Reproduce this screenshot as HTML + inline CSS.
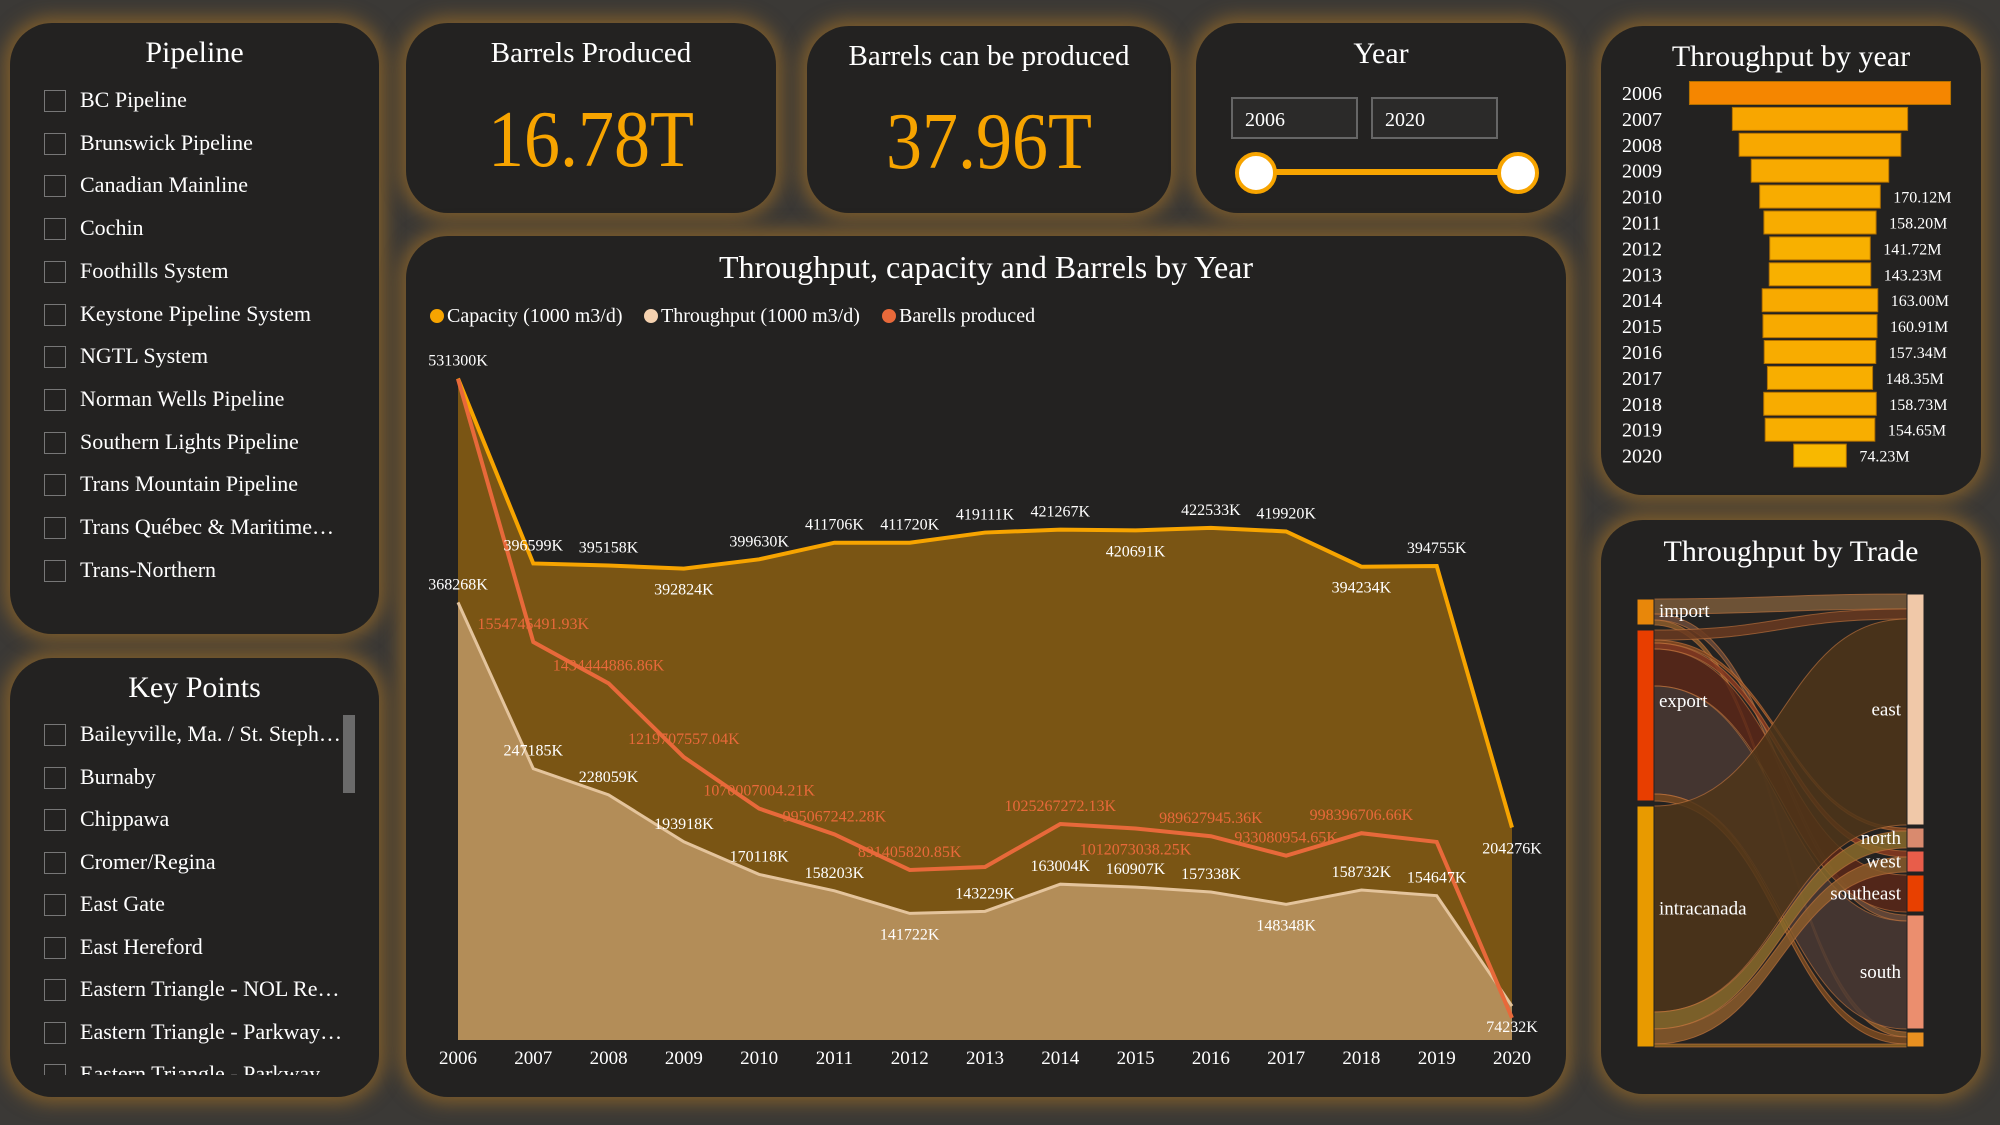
<!DOCTYPE html>
<html><head><meta charset="utf-8">
<style>
html,body{margin:0;padding:0;}
body{width:2000px;height:1125px;background:#3b3936;position:relative;overflow:hidden;font-family:"Liberation Serif",serif;color:#fff;}
.panel{position:absolute;background:#232221;border-radius:42px;box-shadow:0 0 18px 6px rgba(150,105,40,0.75);}
.ptitle{position:absolute;left:0;right:0;text-align:center;font-size:30px;}
.item{position:absolute;left:34px;font-size:22px;white-space:nowrap;}
.cb{position:absolute;left:0;top:-11px;width:20px;height:20px;border:1.5px solid #777;}
.lbl{position:absolute;left:36px;top:-14px;}
.kpi{position:absolute;left:0;right:0;text-align:center;color:#f7a400;font-size:80px;transform:scaleX(0.9);}
.inp{position:absolute;width:127px;height:42px;border:2px solid #666;background:#2b2a29;font-size:20px;line-height:42px;box-sizing:border-box;padding-left:12px;}
svg{position:absolute;left:0;top:0;}
</style></head>
<body>
<div class="panel" style="left:10px;top:23px;width:369px;height:611px;">
  <div class="ptitle" style="top:13px;">Pipeline</div>
  <div id="pipeList"></div>
</div>
<div class="panel" style="left:10px;top:658px;width:369px;height:439px;overflow:hidden;">
  <div class="ptitle" style="top:13px;">Key Points</div>
  <div id="kpList" style="position:absolute;left:0;top:0;width:369px;height:417px;overflow:hidden;"></div>
  <div style="position:absolute;left:333px;top:57px;width:12px;height:78px;background:#6a6a6a;"></div>
</div>
<div class="panel" style="left:406px;top:23px;width:370px;height:190px;">
  <div class="ptitle" style="top:14px;font-size:29px;">Barrels Produced</div>
  <div class="kpi" style="top:72px;">16.78T</div>
</div>
<div class="panel" style="left:807px;top:26px;width:364px;height:187px;">
  <div class="ptitle" style="top:14px;font-size:29px;">Barrels can be produced</div>
  <div class="kpi" style="top:71px;">37.96T</div>
</div>
<div class="panel" style="left:1196px;top:23px;width:370px;height:190px;">
  <div class="ptitle" style="top:14px;">Year</div>
  <div class="inp" style="left:35px;top:74px;">2006</div>
  <div class="inp" style="left:175px;top:74px;">2020</div>
  <div style="position:absolute;left:59px;top:146px;width:262px;height:6px;background:#f7a400;"></div>
  <div style="position:absolute;left:39px;top:129px;width:34px;height:34px;border-radius:50%;background:#fff;border:4px solid #f7a400;"></div>
  <div style="position:absolute;left:301px;top:129px;width:34px;height:34px;border-radius:50%;background:#fff;border:4px solid #f7a400;"></div>
</div>
<div class="panel" style="left:406px;top:236px;width:1160px;height:861px;"></div>
<div class="panel" style="left:1601px;top:26px;width:380px;height:469px;">
  <div class="ptitle" style="top:14px;">Throughput by year</div>
</div>
<div class="panel" style="left:1601px;top:520px;width:380px;height:574px;">
  <div class="ptitle" style="top:15px;">Throughput by Trade</div>
</div>
<svg id="main" width="2000" height="1125"></svg>
<script>
const pipelines=["BC Pipeline","Brunswick Pipeline","Canadian Mainline","Cochin","Foothills System","Keystone Pipeline System","NGTL System","Norman Wells Pipeline","Southern Lights Pipeline","Trans Mountain Pipeline","Trans Québec & Maritime…","Trans-Northern"];
const keyPoints=["Baileyville, Ma. / St. Steph…","Burnaby","Chippawa","Cromer/Regina","East Gate","East Hereford","Eastern Triangle - NOL Re…","Eastern Triangle - Parkway…","Eastern Triangle - Parkway…"];
function fillList(id,arr,top0,pitch){
  const c=document.getElementById(id);
  arr.forEach((t,i)=>{
    const d=document.createElement('div');d.className='item';d.style.top=(top0+i*pitch)+'px';
    
    
    d.innerHTML='<div class="cb"></div><div class="lbl">'+t+'</div>';
    c.appendChild(d);
  });
}
fillList('pipeList',pipelines,78,42.7);
fillList('kpList',keyPoints,77,42.5);

const years=[2006,2007,2008,2009,2010,2011,2012,2013,2014,2015,2016,2017,2018,2019,2020];
const capacity=[531300,396599,395158,392824,399630,411706,411720,419111,421267,420691,422533,419920,394234,394755,204276];
const throughput=[368268,247185,228059,193918,170118,158203,141722,143229,163004,160907,157338,148348,158732,154647,74232];
const barrels=[2320,1554.75,1434.44,1219.71,1070.01,995.07,891.41,900,1025.27,1012.07,989.63,933.08,998.40,973,461];
const barrelLabels=["","1554745491.93K","1434444886.86K","1219707557.04K","1070007004.21K","995067242.28K","891405820.85K","","1025267272.13K","1012073038.25K","989627945.36K","933080954.65K","998396706.66K","",""];
const capPos=["a","a","a","b","a","a","a","a","a","b","a","a","b","a","b"];
const thrPos=["a","a","a","a","a","a","b","a","a","a","a","b","a","a","b"];
const barPos=["a","a","a","a","a","a","a","a","a","b","a","a","a","a","a"];

const NS='http://www.w3.org/2000/svg';
const svg=document.getElementById('main');
function el(tag,attrs,parent){const e=document.createElementNS(NS,tag);for(const k in attrs)e.setAttribute(k,attrs[k]);(parent||svg).appendChild(e);return e;}
const X0=458,X1=1512,BASE=1040;
const xs=i=>X0+i*(X1-X0)/(years.length-1);
const yv=v=>1108-v*0.001373;
const yb=v=>642+(1554.75-v)*0.3437;

let t=el('text',{x:986,y:278,'text-anchor':'middle','font-size':32,fill:'#fff'});t.textContent='Throughput, capacity and Barrels by Year';


const leg=[["Capacity (1000 m3/d)","#f7a400",437],["Throughput (1000 m3/d)","#f5d2b0",651],["Barells produced","#e8693a",889]];
leg.forEach(l=>{
  const g=el('g',{});
  
  
  el('circle',{cx:l[2],cy:316,r:7,fill:l[1]},g);
  const tx=el('text',{x:l[2]+10,y:322,'font-size':20,fill:'#fff'},g);tx.textContent=l[0];
});
function areaPath(vals,fy){let d='M'+xs(0)+','+BASE;vals.forEach((v,i)=>d+=' L'+xs(i)+','+fy(v));return d+' L'+xs(vals.length-1)+','+BASE+' Z';}
function linePath(vals,fy){return vals.map((v,i)=>(i?'L':'M')+xs(i)+','+fy(v)).join(' ');}
let a=el('path',{d:areaPath(capacity,yv),fill:'#7a5514'});


a=el('path',{d:areaPath(throughput,yv),fill:'#b38d58'});


a=el('path',{d:linePath(throughput,yv),fill:'none',stroke:'#e4c49c','stroke-width':3});


a=el('path',{d:linePath(capacity,yv),fill:'none',stroke:'#f7a400','stroke-width':4});


a=el('path',{d:linePath(barrels,yb),fill:'none',stroke:'#e8693a','stroke-width':4});


function dataLabels(vals,fy,texts,pos,color,name){
  vals.forEach((v,i)=>{
    if(!texts[i])return;
    const y=fy(v)+(pos[i]==='a'?-13:26);
    const tx=el('text',{x:xs(i),y:y,'text-anchor':'middle','font-size':16,fill:color});
    
    
    tx.textContent=texts[i];
  });
}
dataLabels(capacity,yv,capacity.map(v=>v+'K'),capPos,'#fff','capacity-label');
dataLabels(throughput,yv,throughput.map(v=>v+'K'),thrPos,'#fff','throughput-label');
dataLabels(barrels,yb,barrelLabels,barPos,'#e8693a','barrels-label');
years.forEach((y,i)=>{
  const tx=el('text',{x:xs(i),y:1064,'text-anchor':'middle','font-size':19,fill:'#fff'});
  
  
  tx.textContent=y;
});

const fyLabels=["","","","","170.12M","158.20M","141.72M","143.23M","163.00M","160.91M","157.34M","148.35M","158.73M","154.65M","74.23M"];
const fColors=["#f58600","#f8a600","#f8a800","#f8aa00","#f8ac00","#f8ac00","#f8b000","#f8b000","#f8aa00","#f8aa00","#f8ac00","#f8ae00","#f8ac00","#f8ae00","#f8b800"];
const FC=1820,FW=0.000709;
years.forEach((y,i)=>{
  const cy=93+i*25.9, w=throughput[i]*FW;
  const tx=el('text',{x:1622,y:cy+7,'font-size':20,fill:'#fff'});
  
  
  tx.textContent=y;
  const r=el('rect',{x:FC-w/2,y:cy-11.5,width:w,height:23,fill:fColors[i],stroke:'#b27000','stroke-width':1});
  
  
  if(fyLabels[i]){
    const v=el('text',{x:FC+w/2+13,y:cy+6,'font-size':16,fill:'#fff'});
    
    
    v.textContent=fyLabels[i];
  }
});

const srcNodes=["import","export","intracanada"];
const srcColors=["#e8870a","#e83e00","#e89a00"];
const tgtNodes=["east","north","west","southeast","south","other"];
const tgtColors=["#f0c8a8","#d98a6e","#e85d4a","#e84000","#eb8e6e","#e89020"];
const flowSrc=[0,0,0,1,1,1,1,1,1,2,2,2,2];
const flowTgt=[0,4,5,0,1,2,3,4,5,0,1,2,5];
const flowVal=[15,6,5,10,3,6,37,108,7,206,17,15,3];
const flowColors=["#7a5a3a","#6a4a3a","#8a5a2a","#6a3a20","#8a4a20","#8a3a20","#5a2718","#4a3833","#7a4a20","#4f3519","#8a6a2a","#8a5a2a","#8a6020"];
const LX=1637,RX=1907,NW=17,TOP=599,GAP=5;
const srcTot=srcNodes.map((_,s)=>flowVal.reduce((a,v,k)=>a+(flowSrc[k]===s?v:0),0));
const tgtTot=tgtNodes.map((_,s)=>flowVal.reduce((a,v,k)=>a+(flowTgt[k]===s?v:0),0));
const srcY=[],tgtY=[];let yy=TOP;
srcTot.forEach(v=>{srcY.push(yy);yy+=v+GAP;});
yy=594;tgtTot.forEach(v=>{tgtY.push(yy);yy+=v+3;});
const sOff=srcY.slice(),tOff=tgtY.slice();
flowVal.forEach((v,k)=>{
  const s=flowSrc[k],g=flowTgt[k];
  const y0=sOff[s],y1=tOff[g];sOff[s]+=v;tOff[g]+=v;
  const xa=LX+NW,xb=RX,xm=(xa+xb)/2;
  const d=`M${xa},${y0} C${xm},${y0} ${xm},${y1} ${xb},${y1} L${xb},${y1+v} C${xm},${y1+v} ${xm},${y0+v} ${xa},${y0+v} Z`;
  const p=el('path',{d:d,fill:flowColors[k],'fill-opacity':0.85,stroke:'#c87840','stroke-opacity':0.6,'stroke-width':1});
  
  
});
srcNodes.forEach((n,s)=>{
  const r=el('rect',{x:LX,y:srcY[s],width:NW,height:srcTot[s],fill:srcColors[s],stroke:'#222'});
  
  
  const tx=el('text',{x:LX+22,y:srcY[s]+(s===0?18:srcTot[s]*0.45),'font-size':19,fill:'#fff'});
  
  
  tx.textContent=n;
});
tgtNodes.forEach((n,s)=>{
  const r=el('rect',{x:RX,y:tgtY[s],width:NW,height:tgtTot[s],fill:tgtColors[s],stroke:'#222'});
  
  
  if(n==='other')return;
  const tx=el('text',{x:RX-6,y:tgtY[s]+tgtTot[s]/2+6,'text-anchor':'end','font-size':19,fill:'#fff'});
  
  
  tx.textContent=n;
});
</script>
</body></html>
